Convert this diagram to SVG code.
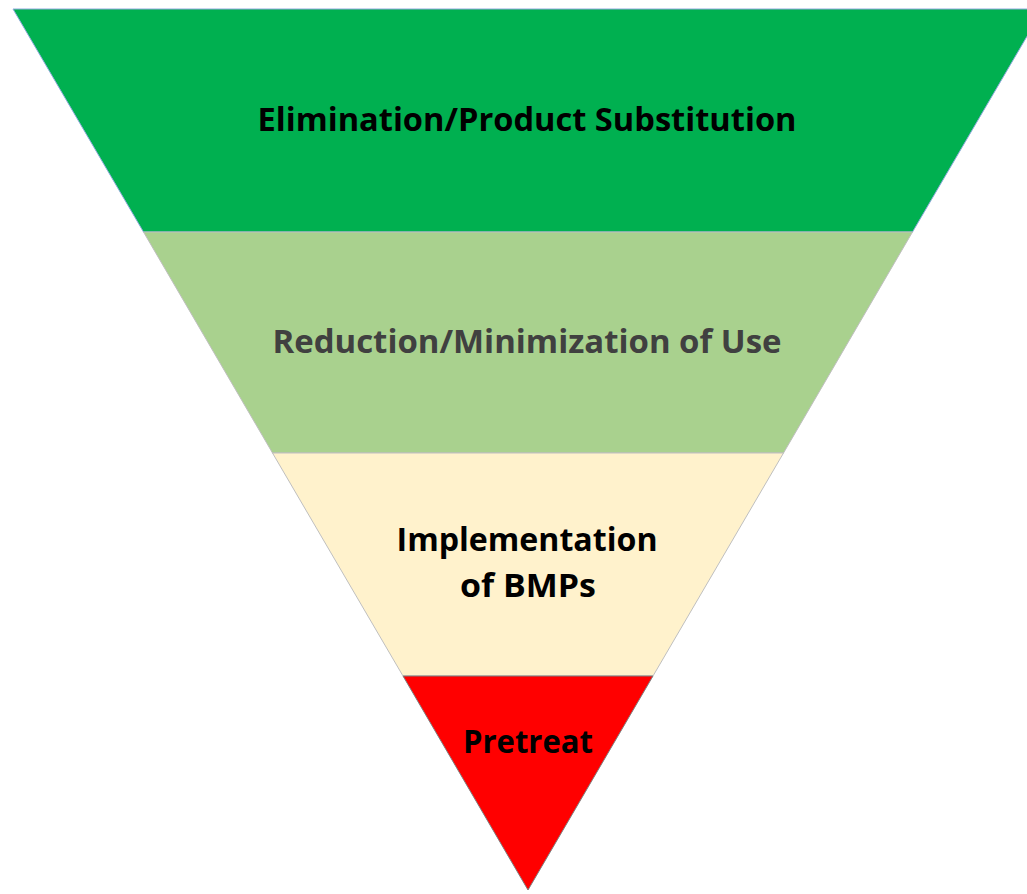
<svg xmlns="http://www.w3.org/2000/svg" width="1027" height="894" viewBox="0 0 1027 894">
  <style>
    .lbl { font-family: "Open Sans", "Noto Sans", "Liberation Sans", sans-serif; font-weight: 700; font-size: 33px; text-anchor: middle; fill: #000000; }
    .dark { fill: #404040; }
    .edge { stroke: #BFBFBF; stroke-width: 1; }
  </style>
  <rect width="1027" height="894" fill="#FFFFFF"/>
  <!-- inverted pyramid: four stacked bands -->
  <g id="band-elimination">
    <polygon points="13,9 1043,9 912.5,232 143.5,232" fill="#00B050" stroke="#8FAADC" stroke-width="1"/>
    <text class="lbl" x="527" y="131" textLength="539" lengthAdjust="spacingAndGlyphs">Elimination/Product Substitution</text>
  </g>
  <g id="band-reduction">
    <polygon points="143.5,232 912.5,232 783.5,453 272.5,453" fill="#A9D18E" class="edge"/>
    <text class="lbl dark" x="527" y="353" textLength="509" lengthAdjust="spacingAndGlyphs">Reduction/Minimization of Use</text>
  </g>
  <g id="band-bmps">
    <polygon points="272.5,453 783.5,453 653,676 403,676" fill="#FFF2CC" class="edge"/>
    <text class="lbl" x="527" y="551" textLength="261" lengthAdjust="spacingAndGlyphs">Implementation</text>
    <text class="lbl" x="528" y="597" textLength="136" lengthAdjust="spacingAndGlyphs">of BMPs</text>
  </g>
  <g id="band-pretreat">
    <polygon points="403,676 653,676 528,890" fill="#FF0000" stroke="#7F7F7F" stroke-width="1"/>
    <text class="lbl" x="528" y="753" textLength="130" lengthAdjust="spacingAndGlyphs">Pretreat</text>
  </g>
  <g id="connectors"/>
</svg>
